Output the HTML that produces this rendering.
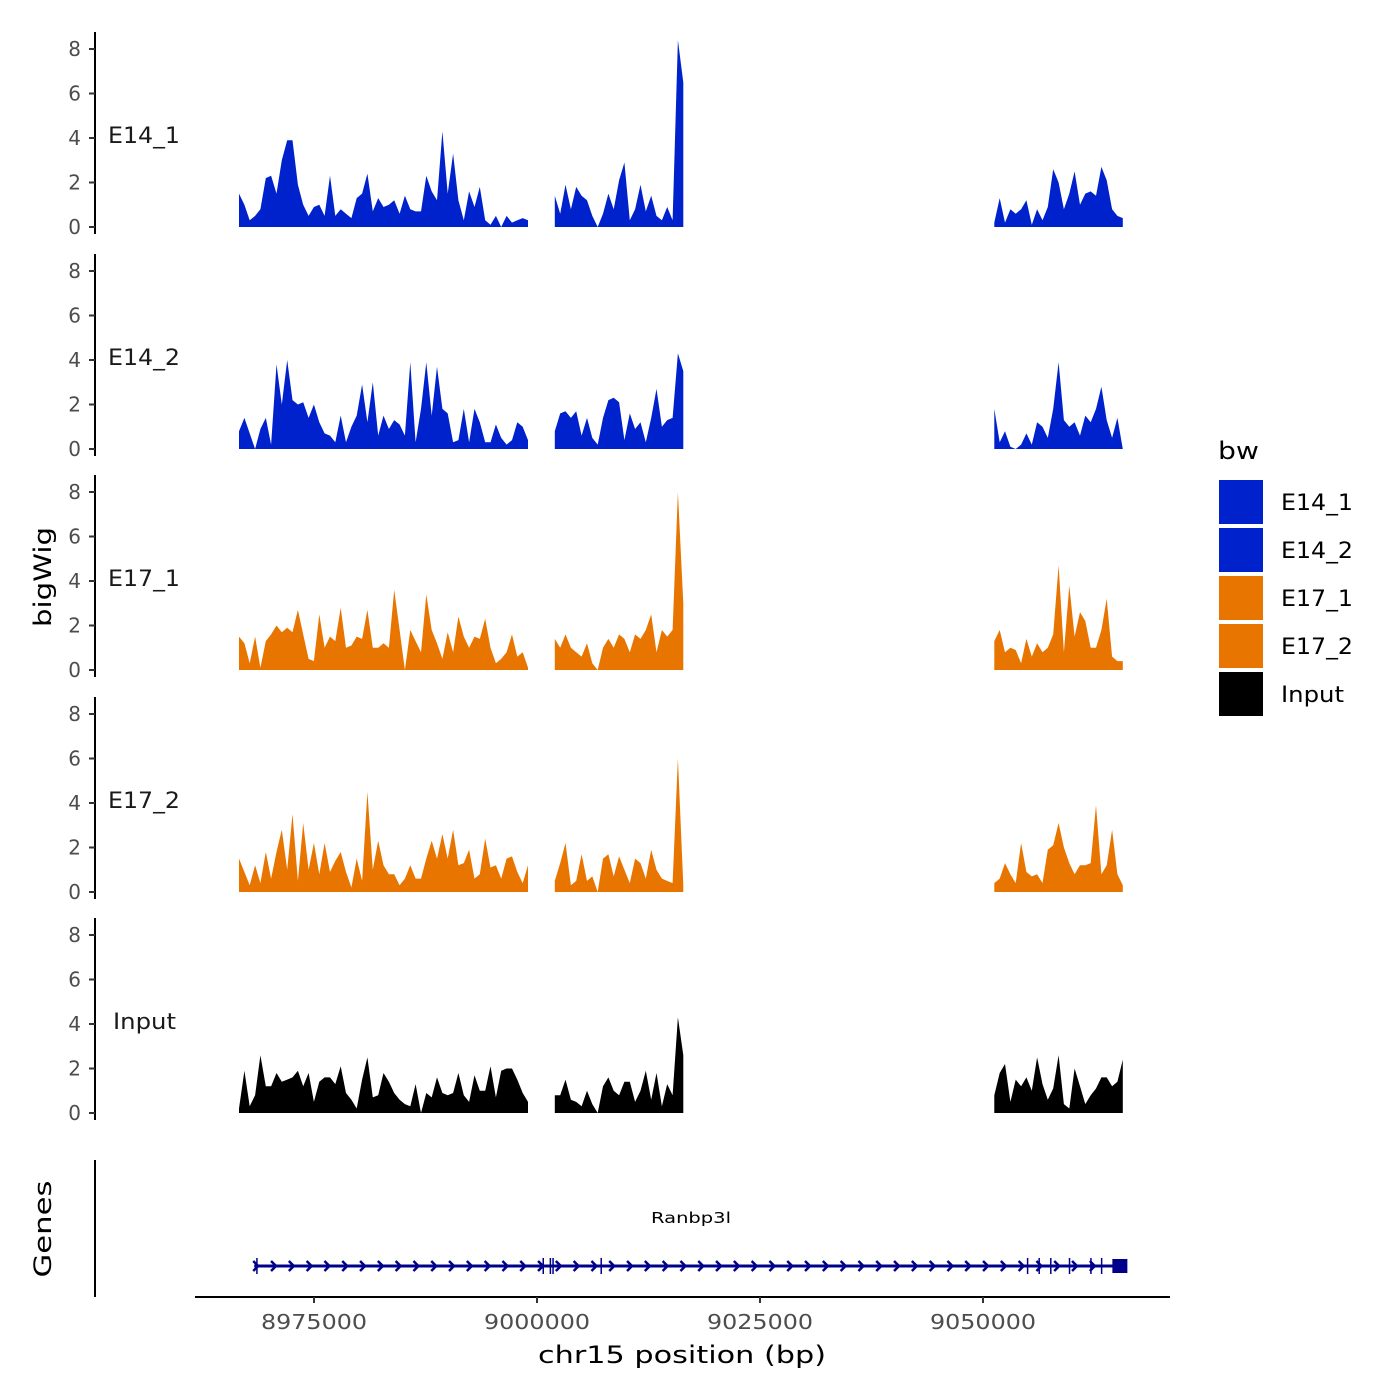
<!DOCTYPE html>
<html><head><meta charset="utf-8">
<style>
html,body{margin:0;padding:0;background:#fff;}
svg{display:block;font-family:"DejaVu Sans","Liberation Sans",sans-serif;}
</style></head>
<body>
<svg id="chart" width="1400" height="1400" viewBox="0 0 1400 1400" xmlns="http://www.w3.org/2000/svg">
<g id="panels"></g>
<g id="genes"></g>
<g id="xaxis"></g>
<text x="0" y="0" transform="translate(51,577) rotate(-90)" text-anchor="middle" font-size="24" textLength="100" lengthAdjust="spacingAndGlyphs" fill="#000">bigWig</text>
<text x="0" y="0" transform="translate(51,1229) rotate(-90)" text-anchor="middle" font-size="24" textLength="97" lengthAdjust="spacingAndGlyphs" fill="#000">Genes</text>
<text x="682" y="1363" text-anchor="middle" font-size="24" textLength="288" lengthAdjust="spacingAndGlyphs" fill="#000">chr15 position (bp)</text>
<g id="legend"></g>
</svg>
<script>
// ---- data ----
const trackNames = ["E14_1","E14_2","E17_1","E17_2","Input"];
const trackColors = ["#0022cc","#0022cc","#e87500","#e87500","#000000"];
const legendNames = ["E14_1","E14_2","E17_1","E17_2","Input"];
const yTicks = [0,2,4,6,8];
const xTicks = [8975000,9000000,9025000,9050000];
const xTickLabels = ["8975000","9000000","9025000","9050000"];
const segStarts = [8966592, 9002000, 9051270];
const binSize = 600;

const e14_1_a = [1.5,1.0,0.3,0.5,0.8,2.2,2.3,1.5,3.0,3.9,3.9,1.9,1.0,0.5,0.9,1.0,0.5,2.3,0.5,0.8,0.6,0.4,1.3,1.5,2.4,0.7,1.3,0.9,1.0,1.2,0.6,1.4,0.8,0.7,0.7,2.3,1.6,1.2,4.3,1.5,3.3,1.2,0.3,1.6,0.9,1.8,0.3,0.1,0.5,0,0.5,0.2,0.3,0.4,0.3];
const e14_1_b = [1.4,0.6,1.9,0.8,1.8,1.4,1.2,0.5,0,0.6,1.5,0.8,2.1,2.9,0.3,0.8,1.9,0.7,1.4,0.5,0.3,0.9,0.3,8.4,6.5];
const e14_1_c = [0.2,1.3,0.2,0.8,0.6,0.8,1.2,0.1,0.8,0.3,0.9,2.6,2.0,0.8,1.5,2.5,1.0,1.5,1.6,1.4,2.7,2.1,0.8,0.5,0.4];

const e14_2_a = [0.8,1.4,0.7,0,0.9,1.4,0.2,3.8,2.0,4.0,2.2,2.0,2.1,1.4,2.0,1.2,0.7,0.6,0.3,1.5,0.3,1.0,1.5,2.9,1.2,3.0,0.6,1.5,0.9,1.3,1.1,0.6,3.9,0.3,1.8,3.9,1.5,3.7,1.8,1.6,0.3,0.4,1.8,0.3,1.8,1.2,0.3,0.3,1.1,0.5,0.2,0.4,1.2,1.0,0.4];
const e14_2_b = [0.8,1.6,1.7,1.4,1.7,0.6,1.4,0.5,0.2,1.4,2.2,2.3,2.1,0.4,1.6,0.9,1.2,0.3,1.4,2.7,1.0,1.3,1.4,4.3,3.5];
const e14_2_c = [1.8,0.3,0.8,0.1,0,0.2,0.7,0.2,1.2,1.0,0.5,1.8,3.9,1.3,1.0,1.2,0.6,1.5,1.2,1.8,2.8,1.3,0.5,1.4,0];

const e17_1_a = [1.5,1.2,0.3,1.5,0.1,1.3,1.6,2.0,1.7,1.9,1.7,2.7,1.6,0.5,0.4,2.5,1.0,1.5,1.3,2.8,1.0,1.1,1.5,1.4,2.7,1.0,1.0,1.2,1.0,3.6,1.8,0,1.8,1.3,0.8,3.4,1.8,1.2,0.5,1.7,0.8,2.4,1.5,1.0,1.5,1.4,2.3,1.0,0.3,0.5,0.8,1.6,0.6,0.8,0.1];
const e17_1_b = [1.4,1.0,1.6,1.0,0.8,0.6,1.2,0.3,0,1.0,1.4,1.0,1.6,1.4,0.8,1.6,1.4,1.8,2.5,0.8,1.8,1.5,1.8,8.0,3.0];
const e17_1_c = [1.3,1.8,0.8,1.0,0.9,0.3,1.4,0.6,1.2,0.8,1.0,1.6,4.7,0.8,3.8,1.5,2.6,2.2,1.0,1.0,1.8,3.2,0.6,0.4,0.4];

const e17_2_a = [1.5,0.9,0.3,1.2,0.4,1.8,0.6,1.8,2.8,1.0,3.5,0.5,3.1,1.0,2.2,0.8,2.2,0.9,1.4,1.8,0.9,0.2,1.5,0.5,4.5,1.0,2.3,1.2,0.8,0.8,0.3,0.6,1.2,0.6,0.6,1.5,2.3,1.5,2.6,1.5,2.8,1.2,1.3,1.9,0.6,0.8,2.4,1.1,1.2,0.6,1.5,1.6,0.9,0.4,1.2];
const e17_2_b = [0.5,1.3,2.2,0.3,0.5,1.7,0.5,0.7,0,1.5,1.7,0.7,1.6,1.0,0.4,1.5,1.3,0.6,1.9,1.0,0.6,0.5,0.4,6.0,0.3];
const e17_2_c = [0.4,0.6,1.3,0.8,0.4,2.2,0.9,0.7,0.8,0.4,1.9,2.1,3.1,2.0,1.3,0.8,1.2,1.2,1.3,3.9,0.8,1.2,2.8,0.8,0.3];

const input_a = [0.2,1.9,0.3,0.8,2.6,1.2,1.2,1.8,1.4,1.5,1.6,1.9,1.2,1.8,0.5,1.4,1.6,1.6,1.3,2.1,0.9,0.6,0.2,1.5,2.5,0.7,0.8,1.8,1.4,0.9,0.6,0.4,0.3,1.3,0,0.9,0.7,1.6,0.9,0.8,0.9,1.8,0.8,0.5,1.7,1.0,1.0,2.1,0.7,1.9,2.0,2.0,1.5,0.9,0.5];
const input_b = [0.8,0.8,1.5,0.6,0.5,0.3,1.0,0.4,0,1.2,1.6,1.0,0.8,1.4,1.4,0.5,1.0,1.9,0.6,1.8,0.3,1.3,0.8,4.3,2.6];
const input_c = [0.8,1.8,2.2,0.5,1.5,1.2,1.6,1.0,2.5,1.3,0.6,1.1,2.6,0.4,0.2,2.0,1.2,0.4,0.8,1.1,1.6,1.6,1.2,1.4,2.4];

const trackSegments = [
  [e14_1_a,e14_1_b,e14_1_c],
  [e14_2_a,e14_2_b,e14_2_c],
  [e17_1_a,e17_1_b,e17_1_c],
  [e17_2_a,e17_2_b,e17_2_c],
  [input_a,input_b,input_c]
];

const geneName = "Ranbp3l";
const geneStart = 8968300;
const geneEnd = 9065400;
const exonStarts = [8968600,9000700,9001500,9001800,9007200,9055000,9056300,9057600,9059700,9062100,9063300];

// ---- axes ----
const NS = "http://www.w3.org/2000/svg";
function xScale(bp){ return 537 + (bp - 9000000) * 0.00892; }
const panelBase = [227, 449, 670, 892, 1113];
const unitPx = 22.25;
function yScale(p, v){ return panelBase[p] - v * unitPx; }
function mk(tag, attrs, parent){
  const e = document.createElementNS(NS, tag);
  for (const k in attrs) e.setAttribute(k, attrs[k]);
  parent.appendChild(e);
  return e;
}

const panels = document.getElementById('panels');
for (let p = 0; p < trackNames.length; p++) {
  const g = mk('g', {}, panels);
  
  
  const top = panelBase[p] - 195, bot = panelBase[p] + 7;
  const ax = mk('line', {x1:95, x2:95, y1:top, y2:bot, stroke:'#000', 'stroke-width':2}, g);
  
  
  for (const t of yTicks) {
    const y = yScale(p, t);
    const tk = mk('line', {x1:89, x2:95, y1:y, y2:y, stroke:'#333', 'stroke-width':2}, g);
    
    
    const tl = mk('text', {x:81, y:y+7, 'text-anchor':'end', 'font-size':20, fill:'#4d4d4d'}, g);
    tl.textContent = t;
    
    
  }
  const isInput = trackNames[p] === 'Input';
  const lab = mk('text', {x:isInput?113:108, y:panelBase[p]-84, 'font-size':22, fill:'#1a1a1a', textLength:isInput?63:72, lengthAdjust:'spacingAndGlyphs'}, g);
  lab.textContent = trackNames[p];
  
  
  const segs = trackSegments[p];
  for (let s = 0; s < segs.length; s++) {
    const vals = segs[s];
    const x0 = xScale(segStarts[s]);
    let d = 'M' + x0.toFixed(1) + ',' + panelBase[p];
    for (let i = 0; i < vals.length; i++) {
      const x = xScale(segStarts[s] + i * binSize);
      d += ' L' + x.toFixed(1) + ',' + yScale(p, vals[i]).toFixed(1);
    }
    d += ' L' + xScale(segStarts[s] + (vals.length - 1) * binSize).toFixed(1) + ',' + panelBase[p] + ' Z';
    const area = mk('path', {d:d, fill:trackColors[p], stroke:'none'}, g);
    
    
  }
}

// gene track
const gg = document.getElementById('genes');
const gax = mk('line', {x1:95, x2:95, y1:1160, y2:1297, stroke:'#000', 'stroke-width':2}, gg);


const gy = 1266, gcol = '#00008b';
const gx0 = xScale(geneStart), gx1 = xScale(geneEnd);
const gl = mk('line', {x1:gx0, x2:gx1, y1:gy, y2:gy, stroke:gcol, 'stroke-width':3}, gg);


for (let x = gx0 + 2; x < gx1 - 10; x += 17.8) {
  const ch = mk('path', {d:`M${x-3},${gy-5} L${x+2},${gy} L${x-3},${gy+5}`, fill:'none', stroke:gcol, 'stroke-width':2.5}, gg);
  
  
}
for (const e of exonStarts) {
  const x = xScale(e);
  const ex = mk('line', {x1:x, x2:x, y1:gy-8, y2:gy+8, stroke:gcol, 'stroke-width':1.5}, gg);
  
  
}
const eb = mk('rect', {x:gx1-8, y:gy-7, width:15, height:14, fill:gcol}, gg);


const gn = mk('text', {x:691, y:1223, 'text-anchor':'middle', 'font-size':15, fill:'#000', textLength:80, lengthAdjust:'spacingAndGlyphs'}, gg);
gn.textContent = geneName;



// x axis
const xg = document.getElementById('xaxis');
const xl = mk('line', {x1:195, x2:1170, y1:1297, y2:1297, stroke:'#000', 'stroke-width':2}, xg);


for (let i = 0; i < xTicks.length; i++) {
  const x = xScale(xTicks[i]);
  const t = mk('line', {x1:x, x2:x, y1:1297, y2:1303, stroke:'#333', 'stroke-width':2}, xg);
  
  
  const tl = mk('text', {x:x, y:1329, 'text-anchor':'middle', 'font-size':20, fill:'#4d4d4d', textLength:106, lengthAdjust:'spacingAndGlyphs'}, xg);
  tl.textContent = xTickLabels[i];
  
  
}

// legend
const lg = document.getElementById('legend');
const lt = mk('text', {x:1218, y:459, 'font-size':24, fill:'#000', textLength:41, lengthAdjust:'spacingAndGlyphs'}, lg);
lt.textContent = 'bw';


for (let i = 0; i < legendNames.length; i++) {
  const y = 480 + i * 48;
  const r = mk('rect', {x:1219, y:y, width:44, height:44, fill:trackColors[i]}, lg);
  
  
  const isInput = legendNames[i] === 'Input';
  const t = mk('text', {x:1281, y:y+30, 'font-size':22, fill:'#000', textLength:isInput?63:72, lengthAdjust:'spacingAndGlyphs'}, lg);
  t.textContent = legendNames[i];
  
  
}
</script>
</body></html>
